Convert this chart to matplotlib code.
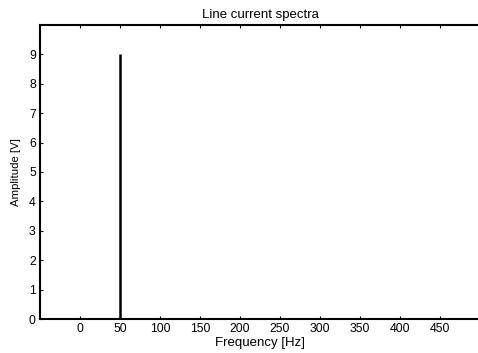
import matplotlib
matplotlib.use("Agg")
import matplotlib.pyplot as plt

plt.rcParams['font.family'] = ['Liberation Sans', 'DejaVu Sans']

freqs = [50]
amps = [9]
xticks = [0, 50, 100, 150, 200, 250, 300, 350, 400, 450]
yticks = [0, 1, 2, 3, 4, 5, 6, 7, 8, 9]

fig = plt.figure(figsize=(4.78, 3.53), dpi=100)
W, H = 478, 353
ax = fig.add_axes([40 / W, 1 - 319 / H, (480 - 40) / W, (319 - 25) / H])
ax.vlines(freqs, 0, amps, colors='black', linewidth=1.8)
ax.set_xlim(-50, 500)
ax.set_ylim(0, 10)
ax.set_xticks(xticks)
ax.set_yticks(yticks)
ax.tick_params(direction='in', length=2.5, width=0.8, labelsize=8.8, top=True, pad=3)
for s in ['left', 'bottom', 'top']:
    ax.spines[s].set_linewidth(1.5)
ax.spines['right'].set_visible(False)
ax.set_title('Line current spectra', fontsize=9.5, pad=5)
ax.set_xlabel('Frequency [Hz]', fontsize=9.5, labelpad=1)
ax.set_ylabel('Amplitude [V]', fontsize=8.2, labelpad=6)
fig.savefig('out.png', dpi=100)
